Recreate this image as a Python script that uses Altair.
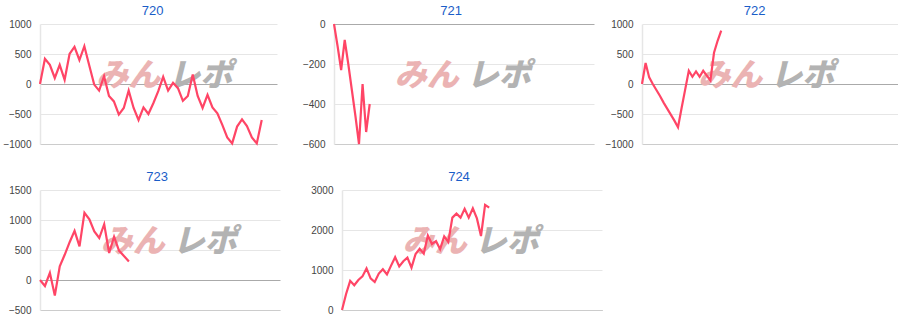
import altair as alt
import pandas as pd

# ---- data ----
titles = ["720", "721", "722", "723", "724"]

v720 = [0, 420, 320, 100, 320, 70, 500, 620, 400, 630, 310, -10, -110, 130, -200,
        -290, -510, -400, -110, -400, -600, -390, -500, -320, -120, 120, -110, 20,
        -70, -280, -200, 160, -200, -400, -180, -390, -490, -680, -890, -990, -710,
        -590, -700, -890, -990, -600]
v721 = [0, -110, -230, -80, -200, -330, -460, -600, -300, -540, -400]
v722 = [0, 350, 110, 0, -100, -200, -310, -410, -510, -610, -720, -400, -90, 220,
        120, 210, 120, 220, 140, 60, 520, 720, 890]
v723 = [0, -100, 120, -260, 230, 420, 630, 820, 560, 1120, 1010, 810, 700, 930,
        450, 720, 490, 400, 310]
v724 = [0, 400, 730, 620, 750, 840, 1040, 790, 700, 910, 1020, 890, 1110, 1320,
        1090, 1220, 1310, 1060, 1400, 1530, 1410, 1860, 1650, 1720, 1520, 1840,
        1700, 2310, 2410, 2310, 2530, 2310, 2540, 2290, 1850, 2630, 2560]

y_domains = [[-1000, 1000], [-600, 0], [-1000, 1000], [-500, 1500], [0, 3000]]
y_steps = [500, 200, 500, 500, 1000]
x_max = [48.1, 72.8, 71.1, 48.6, 63.6]

logo_left = ["みん"]
logo_right = ["レポ"]

# ---- layout / style ----
widths = [237, 260, 256, 240, 260]
extents = [38.3, 47, 36, 32.3, 51.7]
logo_c = [127.2, 131.7, 127.2, 131.7, 131.7]
title_dx = [-5.8, -12.8, -15.3, -2.8, -13]
PLOT_H = 120
LINE = "#ff4566"
FONT = "Liberation Sans"


def panel(k, vals):
    df = pd.DataFrame({"i": list(range(len(vals))), "v": vals})
    lo, hi = y_domains[k]
    ticks = list(range(lo, hi + 1, y_steps[k]))
    x = alt.X("i:Q", scale=alt.Scale(domain=[0, x_max[k]], nice=False, zero=False),
              axis=alt.Axis(labels=False, ticks=False, grid=False, domain=True,
                            domainColor="#cccccc", domainWidth=1, title=None))
    y = alt.Y("v:Q", scale=alt.Scale(domain=[lo, hi], nice=False, zero=False),
              axis=alt.Axis(values=ticks, title=None, ticks=False, labelPadding=9,
                            format="d",
                            labelFontSize=10, labelColor="#444444", labelFont=FONT,
                            domain=True, domainColor="#e6e6e6", domainWidth=1.5,
                            grid=True,
                            gridColor={"condition": {"test": "datum.value === 0",
                                                     "value": "#aaaaaa"},
                                       "value": "#e6e6e6"},
                            minExtent=extents[k], maxExtent=extents[k]))
    line = alt.Chart(df).mark_line(color=LINE, strokeWidth=2.2).encode(x=x, y=y)
    wl = alt.Chart(pd.DataFrame({"t": logo_left})).mark_text(
        font="Noto Sans CJK JP", fontWeight=900, fontStyle="italic", fontSize=32,
        color="#ebb3b3", baseline="middle", align="center"
    ).encode(text="t:N", x=alt.value(logo_c[k] - 39), y=alt.value(52))
    wr = alt.Chart(pd.DataFrame({"t": logo_right})).mark_text(
        font="Noto Sans CJK JP", fontWeight=900, fontStyle="italic", fontSize=32,
        color="#b3b3b3", baseline="middle", align="center"
    ).encode(text="t:N", x=alt.value(logo_c[k] + 33), y=alt.value(52))
    return alt.layer(wl, wr, line).properties(
        width=widths[k], height=PLOT_H,
        title=alt.TitleParams(text=titles[k], fontSize=13, color="#1a5dc8",
                              font=FONT, fontWeight="normal", anchor="middle",
                              frame="group", dx=title_dx[k], offset=-8.5,
                              baseline="alphabetic"))


series = [v720, v721, v722, v723, v724]
panels = [panel(k, s) for k, s in enumerate(series)]
row1 = alt.hconcat(panels[0], panels[1], panels[2], spacing=10)
row2 = alt.hconcat(panels[3], panels[4], spacing=10)
chart = alt.vconcat(row1, row2, spacing=21).properties(
    padding={"left": 1, "top": 4, "right": 0, "bottom": 0}
).configure_view(strokeWidth=0)

chart.save("out.html", embed_options={"renderer": "svg", "actions": False})
